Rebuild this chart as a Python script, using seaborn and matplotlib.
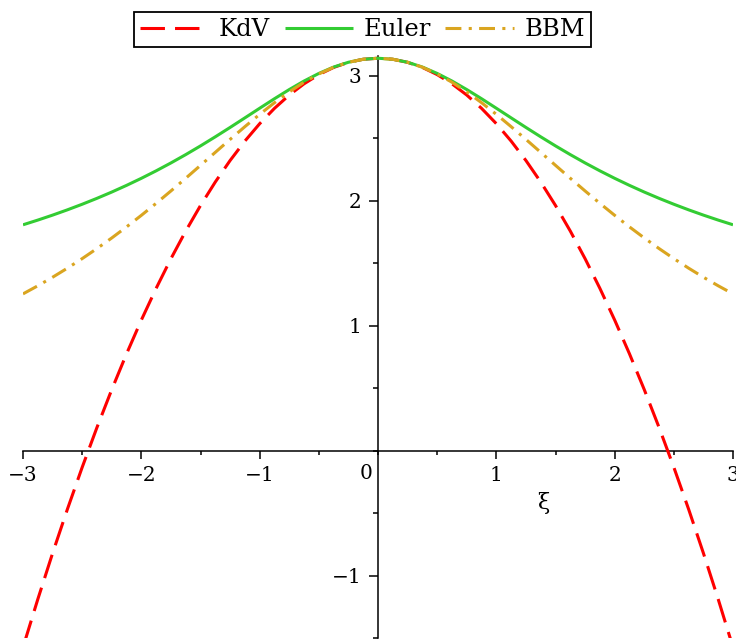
import matplotlib
matplotlib.use("Agg")
import matplotlib.pyplot as plt
from matplotlib.ticker import MultipleLocator, FixedLocator, FixedFormatter
import pandas as pd
import seaborn as sns

# Wavenumber samples
xi = [-3.0, -2.875, -2.75, -2.625, -2.5, -2.375, -2.25, -2.125, -2.0,
      -1.875, -1.75, -1.625, -1.5, -1.375, -1.25, -1.125, -1.0,
      -0.875, -0.75, -0.625, -0.5, -0.375, -0.25, -0.125, 0.0,
      0.125, 0.25, 0.375, 0.5, 0.625, 0.75, 0.875, 1.0,
      1.125, 1.25, 1.375, 1.5, 1.625, 1.75, 1.875, 2.0,
      2.125, 2.25, 2.375, 2.5, 2.625, 2.75, 2.875, 3.0]

# Phase speed for each model
kdv = [-1.5708, -1.1863, -0.8181, -0.4663, -0.1309, 0.1882, 0.4909, 0.7772, 1.0472,
       1.3008, 1.5381, 1.7590, 1.9635, 2.1517, 2.3235, 2.4789, 2.6180,
       2.7407, 2.8471, 2.9370, 3.0107, 3.0680, 3.1089, 3.1334, 3.1416,
       3.1334, 3.1089, 3.0680, 3.0107, 2.9370, 2.8471, 2.7407, 2.6180,
       2.4789, 2.3235, 2.1517, 1.9635, 1.7590, 1.5381, 1.3008, 1.0472,
       0.7772, 0.4909, 0.1882, -0.1309, -0.4663, -0.8181, -1.1863, -1.5708]

euler = [1.8093, 1.8469, 1.8867, 1.9289, 1.9736, 2.0210, 2.0712, 2.1246, 2.1811,
         2.2409, 2.3041, 2.3707, 2.4404, 2.5131, 2.5880, 2.6646, 2.7416,
         2.8178, 2.8911, 2.9594, 3.0202, 3.0711, 3.1095, 3.1334, 3.1416,
         3.1334, 3.1095, 3.0711, 3.0202, 2.9594, 2.8911, 2.8178, 2.7416,
         2.6646, 2.5880, 2.5131, 2.4404, 2.3707, 2.3041, 2.2409, 2.1811,
         2.1246, 2.0712, 2.0210, 1.9736, 1.9289, 1.8867, 1.8469, 1.8093]

bbm = [1.2566, 1.3213, 1.3898, 1.4623, 1.5387, 1.6193, 1.7039, 1.7925, 1.8850,
       1.9809, 2.0800, 2.1815, 2.2848, 2.3889, 2.4925, 2.5943, 2.6928,
       2.7861, 2.8723, 2.9496, 3.0159, 3.0697, 3.1092, 3.1334, 3.1416,
       3.1334, 3.1092, 3.0697, 3.0159, 2.9496, 2.8723, 2.7861, 2.6928,
       2.5943, 2.4925, 2.3889, 2.2848, 2.1815, 2.0800, 1.9809, 1.8850,
       1.7925, 1.7039, 1.6193, 1.5387, 1.4623, 1.3898, 1.3213, 1.2566]

models = ["KdV", "Euler", "BBM"]
colors = {"KdV": "#ff0000", "Euler": "#33cc33", "BBM": "#daa520"}
dash_styles = {"KdV": (8, 3.3), "Euler": "", "BBM": (5.2, 2.4, 1.0, 2.4)}

df = pd.concat([
    pd.DataFrame({"xi": xi, "c": kdv, "model": "KdV"}),
    pd.DataFrame({"xi": xi, "c": euler, "model": "Euler"}),
    pd.DataFrame({"xi": xi, "c": bbm, "model": "BBM"}),
], ignore_index=True)

sns.set_style("white")
plt.rcParams["font.family"] = ["DejaVu Serif"]
plt.rcParams["axes.unicode_minus"] = True
plt.rcParams["text.color"] = "black"
plt.rcParams["axes.labelcolor"] = "black"
plt.rcParams["xtick.color"] = "black"
plt.rcParams["ytick.color"] = "black"

fig = plt.figure(figsize=(7.36, 6.43), dpi=100)
ax = fig.add_axes([0.03125, 0.007, 0.9647, 0.906])

sns.lineplot(data=df, x="xi", y="c", hue="model", style="model",
             hue_order=models, style_order=models, palette=colors,
             dashes=dash_styles, sort=False, estimator=None,
             linewidth=2.2, legend=False, ax=ax)

for line, z in zip(ax.lines, [2, 3, 4]):
    line.set_zorder(z)
    line.set_dash_capstyle("butt")
    line.set_solid_capstyle("butt")

ax.set_xlim(-3, 3)
ax.set_ylim(-1.5, 3.16)

# Axes crossing at the origin
for side in ("top", "right"):
    ax.spines[side].set_visible(False)
ax.spines["left"].set_position(("data", 0))
ax.spines["bottom"].set_position(("data", 0))
for side in ("left", "bottom"):
    ax.spines[side].set_linewidth(1.1)
    ax.spines[side].set_color("black")
    ax.spines[side].set_zorder(1)

xt = [-3, -2, -1, 1, 2, 3]
yt = [-1, 1, 2, 3]
ax.xaxis.set_major_locator(FixedLocator(xt))
ax.xaxis.set_major_formatter(FixedFormatter([f"{v}".replace("-", "\u2212") for v in xt]))
ax.yaxis.set_major_locator(FixedLocator(yt))
ax.yaxis.set_major_formatter(FixedFormatter([f"{v}".replace("-", "\u2212") for v in yt]))
ax.xaxis.set_minor_locator(MultipleLocator(0.5))
ax.yaxis.set_minor_locator(MultipleLocator(0.5))

ax.tick_params(axis="x", which="major", direction="out", length=6, width=1.1,
               pad=4.5, labelsize=14.5, bottom=True, colors="black")
ax.tick_params(axis="x", which="minor", direction="out", length=3.2, width=1.1,
               bottom=True, colors="black")
ax.tick_params(axis="y", which="major", direction="out", length=6.5, width=1.1,
               pad=5.5, labelsize=14.5, left=True, colors="black")
ax.tick_params(axis="y", which="minor", direction="out", length=3.5, width=1.1,
               left=True, colors="black")

ax.annotate("0", xy=(0, 0), xytext=(-4, -9.5), textcoords="offset points",
            ha="right", va="top", fontsize=14.5, color="black")

ax.set_ylabel("")
ax.set_xlabel("\u03be", fontsize=16, color="black")
ax.xaxis.set_label_coords(0.733, 0.252)

handles = ax.lines[:3]
leg = fig.legend(handles, models, loc="upper center",
                 bbox_to_anchor=(0.4925, 0.981), ncol=3, fontsize=17.5,
                 frameon=True, fancybox=False, framealpha=1, edgecolor="black",
                 borderpad=0.25, handlelength=2.8, handletextpad=0.45,
                 columnspacing=0.6, borderaxespad=0)
leg.get_frame().set_linewidth(1.3)
for txt in leg.get_texts():
    txt.set_color("black")

fig.savefig("out.png", dpi=100)
